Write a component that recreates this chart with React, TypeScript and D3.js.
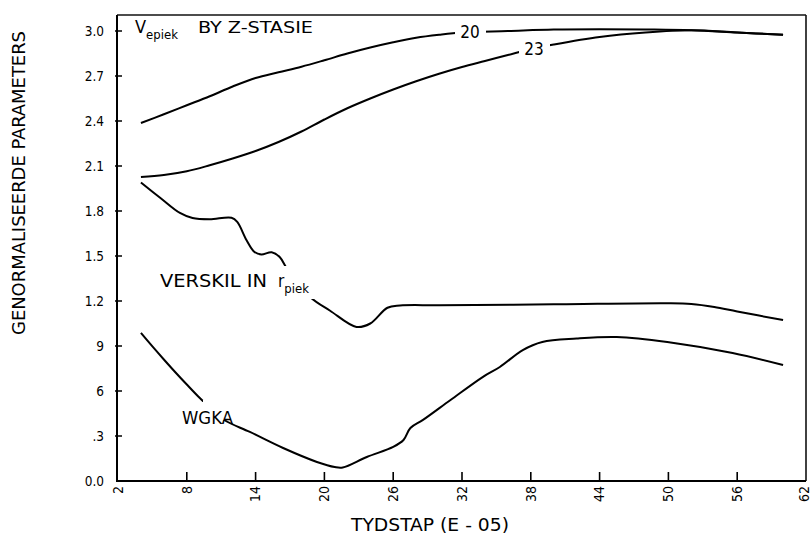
import React from "react";
import * as d3 from "d3";

// Axis ticks
const X_TICKS = [2, 8, 14, 20, 26, 32, 38, 44, 50, 56, 62];
const Y_TICKS = [0, 0.3, 0.6, 0.9, 1.2, 1.5, 1.8, 2.1, 2.4, 2.7, 3.0];
const Y_TICK_LABELS = ["0.0", ".3", "6", "9", "1.2", "1.5", "1.8", "2.1", "2.4", "2.7", "3.0"];

// V_epiek at station 20
const X_V20 = [4, 6, 8, 10, 12, 14, 16, 18, 20, 22, 24, 26, 28, 30, 32, 36, 40, 44, 48, 52, 56, 60];
const Y_V20 = [2.387, 2.445, 2.505, 2.565, 2.63, 2.687, 2.725, 2.762, 2.805, 2.85, 2.89, 2.925, 2.955, 2.975, 2.99, 3.0, 3.01, 3.012, 3.01, 3.005, 2.99, 2.975];

// V_epiek at station 23
const X_V23 = [4, 6, 8, 10, 12, 14, 16, 18, 20, 22, 24, 26, 28, 30, 32, 34, 36, 38, 40, 44, 48, 52, 56, 60];
const Y_V23 = [2.027, 2.04, 2.065, 2.105, 2.15, 2.2, 2.26, 2.33, 2.41, 2.485, 2.55, 2.61, 2.665, 2.715, 2.76, 2.8, 2.84, 2.88, 2.91, 2.96, 2.99, 3.005, 2.99, 2.975];

// Difference in r_piek
const X_R = [4, 5.7, 7.4, 8.5, 10, 11.9, 12.4, 13.2, 13.9, 14.5, 15.4, 16.1, 16.8, 18.75, 20.5, 22.8, 24, 25.5, 26.6, 30, 40, 50, 52, 54, 56, 60];
const Y_R = [1.99, 1.887, 1.787, 1.753, 1.745, 1.755, 1.727, 1.607, 1.527, 1.51, 1.525, 1.493, 1.407, 1.227, 1.135, 1.027, 1.05, 1.155, 1.17, 1.172, 1.178, 1.185, 1.18, 1.16, 1.13, 1.073];

// WGKA
const X_W = [4, 5, 6, 7, 8, 9, 10, 11.3, 13.5, 16.4, 19.35, 20.9, 21.6, 23.7, 26, 26.9, 27.5, 28.6, 31, 33.8, 35.3, 37.3, 39, 42, 45.5, 49.9, 55.6, 60];
const Y_W = [0.987, 0.897, 0.81, 0.725, 0.643, 0.563, 0.49, 0.405, 0.327, 0.22, 0.127, 0.093, 0.09, 0.16, 0.227, 0.273, 0.353, 0.407, 0.54, 0.693, 0.76, 0.873, 0.927, 0.95, 0.96, 0.927, 0.853, 0.773];

const FONT = "'DejaVu Sans Condensed', 'Liberation Sans Narrow', 'DejaVu Sans', sans-serif";

const W = 811;
const H = 540;
const PLOT = { left: 117, right: 806, top: 15, bottom: 481 };

export default function App() {
  const x = d3.scaleLinear().domain([2, 62]).range([118, 806]);
  const y = d3.scaleLinear().domain([0, 3]).range([481, 31]);

  const line = d3
    .line<[number, number]>()
    .x((d) => x(d[0]))
    .y((d) => y(d[1]))
    .curve(d3.curveCatmullRom.alpha(0.5));

  const zip = (xs: number[], ys: number[]) => xs.map((v, i) => [v, ys[i]] as [number, number]);

  const series = [
    zip(X_V20, Y_V20),
    zip(X_V23, Y_V23),
    zip(X_R, Y_R),
    zip(X_W, Y_W),
  ];

  // Breaks in the curves where the inline labels sit
  const gaps = [
    { x: 455, y: 20, w: 31, h: 18 },
    { x: 519, y: 38, w: 31, h: 20 },
    { x: 275, y: 266, w: 48, h: 33 },
    { x: 179, y: 402, w: 47, h: 16 },
    { x: 203, y: 400, w: 22, h: 20 },
  ];

  return (
    <svg
      width={W}
      height={H}
      viewBox={`0 0 ${W} ${H}`}
      style={{ position: "absolute", left: 0, top: 0, background: "#fff" }}
      fontFamily={FONT}
    >
      <defs>
        <mask id="labelGaps" maskUnits="userSpaceOnUse" x={0} y={0} width={W} height={H}>
          <rect x={0} y={0} width={W} height={H} fill="#fff" />
          {gaps.map((g, i) => (
            <rect key={i} x={g.x} y={g.y} width={g.w} height={g.h} fill="#000" />
          ))}
        </mask>
      </defs>

      {/* frame */}
      <line x1={PLOT.left} x2={PLOT.right} y1={PLOT.top} y2={PLOT.top} stroke="#111" strokeWidth={1.3} />
      <line x1={PLOT.right} x2={PLOT.right} y1={PLOT.top} y2={PLOT.bottom} stroke="#111" strokeWidth={1.6} />
      <line x1={PLOT.left} x2={PLOT.left} y1={PLOT.top} y2={PLOT.bottom + 1} stroke="#000" strokeWidth={2} />
      <line x1={PLOT.left - 1} x2={PLOT.right} y1={PLOT.bottom} y2={PLOT.bottom} stroke="#000" strokeWidth={2} />

      {/* y ticks */}
      {Y_TICKS.map((v, i) => (
        <g key={v}>
          {i > 0 && <line x1={PLOT.left - 2} x2={PLOT.left + 5} y1={y(v)} y2={y(v)} stroke="#000" strokeWidth={1.5} />}
          <text x={104} y={y(v)} dy="0.36em" textAnchor="end" fontSize={13.5} fill="#000">
            {Y_TICK_LABELS[i]}
          </text>
        </g>
      ))}

      {/* x ticks */}
      {X_TICKS.map((v, i) => (
        <g key={v}>
          {i > 0 && i < X_TICKS.length - 1 && (
            <line x1={x(v)} x2={x(v)} y1={PLOT.bottom} y2={PLOT.bottom - 9} stroke="#000" strokeWidth={1.6} />
          )}
          <text
            transform={`translate(${Math.min(x(v), 804)},${PLOT.bottom + 5}) rotate(-90)`}
            dy="0.34em"
            textAnchor="end"
            fontSize={14}
            fill="#000"
          >
            {v}
          </text>
        </g>
      ))}

      {/* curves */}
      <g mask="url(#labelGaps)">
        {series.map((s, i) => (
          <path key={i} d={line(s) ?? ""} fill="none" stroke="#000" strokeWidth={2} strokeLinejoin="round" />
        ))}
      </g>

      {/* curve labels */}
      <text x={470} y={38} textAnchor="middle" fontSize={17} fill="#000">20</text>
      <text x={534} y={55} textAnchor="middle" fontSize={17} fill="#000">23</text>

      <text x={135} y={33} fontSize={18} fill="#000">
        V
        <tspan fontSize={13} dy={6}>epiek</tspan>
      </text>
      <text x={198} y={33} fontSize={16} fill="#000" textLength={115} lengthAdjust="spacingAndGlyphs">
        BY Z-STASIE
      </text>

      <text x={160} y={287} fontSize={17} fill="#000" textLength={107} lengthAdjust="spacingAndGlyphs">
        VERSKIL IN
      </text>
      <text x={278} y={287} fontSize={17} fill="#000">
        r<tspan fontSize={13} dy={6}>piek</tspan>
      </text>

      <text x={182} y={424} fontSize={17} fill="#000" textLength={51} lengthAdjust="spacingAndGlyphs">
        WGKA
      </text>

      {/* axis titles */}
      <text
        transform={`translate(25,183) rotate(-90)`}
        textAnchor="middle"
        fontSize={17}
        fill="#000"
        textLength={304}
        lengthAdjust="spacingAndGlyphs"
      >
        GENORMALISEERDE PARAMETERS
      </text>
      <text x={430} y={531} textAnchor="middle" fontSize={17} fill="#000" textLength={158} lengthAdjust="spacingAndGlyphs">
        TYDSTAP (E - 05)
      </text>
    </svg>
  );
}
